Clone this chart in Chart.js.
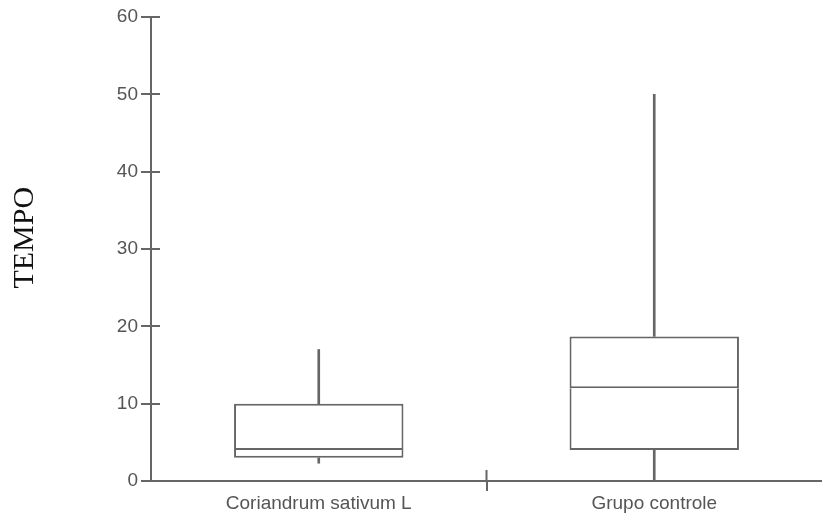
<!DOCTYPE html>
<html>
<head>
<meta charset="utf-8">
<script src="https://cdn.jsdelivr.net/npm/chart.js@4/dist/chart.umd.min.js"></script>
<style>
  html, body { margin: 0; padding: 0; background: #fff; }
  #wrap { width: 822px; height: 518px; }
</style>
</head>
<body>
<div id="wrap"><canvas id="boxChart"></canvas></div>
<script>
const categories = ['Coriandrum sativum L', 'Grupo controle'];
const mins = [2.3, 0];
const q1s = [3, 4];
const medians = [4, 12];
const q3s = [10, 18.7];
const maxs = [17, 50];
const yTicks = [0, 10, 20, 30, 40, 50, 60];

const lineColor = '#666666';
const lw = 2;

// box halves: [q1, median] and [median, q3]
const lowerBox = categories.map((c, i) => [q1s[i], medians[i]]);
const upperBox = categories.map((c, i) => [medians[i], q3s[i]]);
const lowerWhisker = categories.map((c, i) => [mins[i], q1s[i]]);
const upperWhisker = categories.map((c, i) => [q3s[i], maxs[i]]);

function boxSet(data, border) {
    return {
        data: data,
        grouped: false,
        backgroundColor: '#ffffff',
        borderColor: lineColor,
        borderWidth: border,
        borderSkipped: false,
        barPercentage: 0.505,
        categoryPercentage: 1
    };
}
function whiskerSet(data) {
    return {
        data: data,
        grouped: false,
        backgroundColor: lineColor,
        borderWidth: 0,
        barThickness: lw
    };
}

// tick stubs that cross the axis lines
const crossTicks = {
    id: 'crossTicks',
    afterDraw(chart) {
        const c = chart.ctx;
        const y = chart.scales.y, x = chart.scales.x;
        c.save();
        c.strokeStyle = lineColor;
        c.lineWidth = lw;
        c.beginPath();
        yTicks.forEach(v => {
            const py = Math.round(y.getPixelForValue(v));
            c.moveTo(y.right, py);
            c.lineTo(y.right + 9, py);
        });
        for (let i = 1; i < categories.length; i++) {
            const px = (x.getPixelForValue(i - 1) + x.getPixelForValue(i)) / 2;
            c.moveTo(px, x.top);
            c.lineTo(px, x.top - 11);
        }
        c.stroke();
        c.restore();
    }
};

new Chart(document.getElementById('boxChart'), {
    type: 'bar',
    data: {
        labels: categories,
        datasets: [
            whiskerSet(lowerWhisker),
            whiskerSet(upperWhisker),
            boxSet(lowerBox, { top: 0, left: lw, right: lw, bottom: lw }),
            boxSet(upperBox, lw)
        ]
    },
    options: {
        responsive: true,
        maintainAspectRatio: false,
        animation: false,
        layout: { padding: { top: 17, right: 0, left: 0, bottom: 0 } },
        plugins: {
            legend: { display: false },
            tooltip: { enabled: false }
        },
        scales: {
            x: {
                grid: {
                    drawOnChartArea: false,
                    tickLength: 10,
                    lineWidth: lw,
                    color: ctx => (ctx.index === 1 ? lineColor : 'rgba(0,0,0,0)')
                },
                border: { color: lineColor, width: lw },
                ticks: {
                    color: '#555',
                    padding: 1,
                    font: { family: 'Liberation Sans', size: 19 }
                },
                afterFit: s => { s.height = 37; }
            },
            y: {
                min: 0,
                max: 60,
                afterBuildTicks: s => { s.ticks = yTicks.map(v => ({ value: v })); },
                grid: {
                    drawOnChartArea: false,
                    tickLength: 10,
                    lineWidth: lw,
                    color: lineColor
                },
                border: { color: lineColor, width: lw },
                ticks: {
                    color: '#555',
                    padding: 3,
                    font: { family: 'Liberation Sans', size: 19 }
                },
                title: {
                    display: true,
                    text: '   TEMPO',
                    color: '#111',
                    font: { family: 'Liberation Serif', size: 30 },
                    padding: { top: 7, bottom: 0 }
                },
                afterFit: s => { s.width = 151; }
            }
        }
    },
    plugins: [crossTicks]
});
</script>
</body>
</html>
